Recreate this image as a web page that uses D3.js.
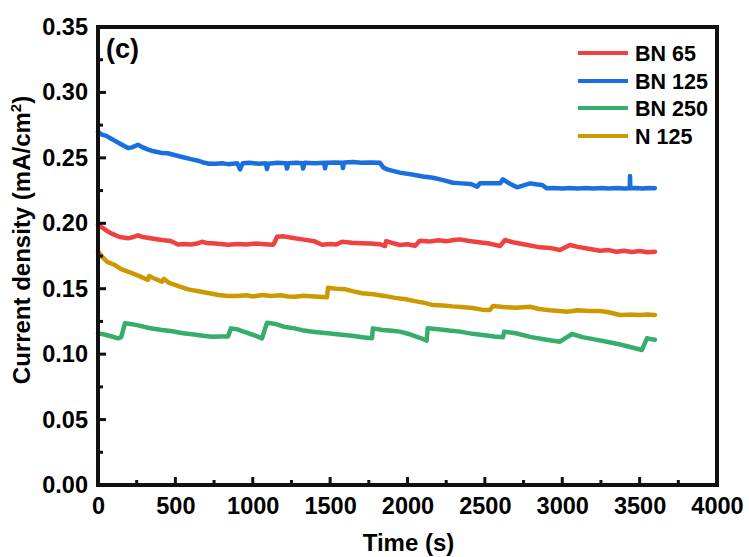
<!DOCTYPE html>
<html><head><meta charset="utf-8">
<script src="https://cdn.jsdelivr.net/npm/d3@7"></script>
<style>body{margin:0;background:#fff}</style>
</head><body><svg id="c" width="749" height="557"></svg>
<script>
const seriesNames = ["BN 65","BN 125","BN 250","N 125"];
const seriesColors = ["#F14040","#1A6FDF","#37AD6B","#CC9900"];
const xTicks = [0,500,1000,1500,2000,2500,3000,3500,4000];
const yTicks = [0,0.05,0.10,0.15,0.20,0.25,0.30,0.35];

const bn65 = [[0,0.1990],[30,0.1965],[60,0.1940],[100,0.1915],[140,0.1895],[194,0.1885],[230,0.1895],[258,0.1908],[290,0.1895],[340,0.1885],[413,0.1872],[470,0.1865],[517,0.1838],[560,0.1842],[600,0.1838],[640,0.1845],[672,0.1859],[700,0.1850],[760,0.1845],[840,0.1836],[900,0.1842],[960,0.1838],[1020,0.1845],[1080,0.1840],[1131,0.1836],[1140,0.1850],[1157,0.1898],[1200,0.1900],[1273,0.1885],[1330,0.1875],[1400,0.1862],[1448,0.1836],[1500,0.1842],[1540,0.1838],[1577,0.1859],[1640,0.1852],[1700,0.1848],[1760,0.1845],[1820,0.1840],[1855,0.1826],[1862,0.1864],[1900,0.1850],[1951,0.1834],[2000,0.1840],[2048,0.1828],[2081,0.1867],[2140,0.1860],[2200,0.1870],[2250,0.1862],[2300,0.1872],[2339,0.1877],[2400,0.1865],[2460,0.1855],[2530,0.1845],[2598,0.1826],[2630,0.1872],[2680,0.1855],[2750,0.1840],[2856,0.1816],[2920,0.1812],[2985,0.1796],[3050,0.1834],[3100,0.1820],[3170,0.1805],[3244,0.1790],[3300,0.1795],[3350,0.1782],[3400,0.1790],[3450,0.1780],[3500,0.1788],[3550,0.1778],[3599,0.1783]];
const bn125 = [[0,0.2700],[20,0.2680],[50,0.2670],[80,0.2650],[110,0.2630],[140,0.2610],[170,0.2590],[194,0.2575],[220,0.2580],[258,0.2600],[290,0.2580],[320,0.2565],[360,0.2550],[413,0.2537],[450,0.2535],[500,0.2520],[550,0.2505],[600,0.2490],[640,0.2480],[680,0.2465],[720,0.2455],[760,0.2455],[800,0.2458],[840,0.2452],[900,0.2458],[918,0.2412],[935,0.2458],[980,0.2462],[1040,0.2455],[1085,0.2458],[1092,0.2415],[1100,0.2455],[1160,0.2462],[1215,0.2458],[1221,0.2418],[1230,0.2458],[1280,0.2462],[1320,0.2458],[1325,0.2418],[1335,0.2462],[1400,0.2458],[1462,0.2462],[1467,0.2420],[1475,0.2462],[1530,0.2465],[1578,0.2462],[1583,0.2422],[1590,0.2465],[1650,0.2468],[1700,0.2462],[1760,0.2465],[1822,0.2462],[1845,0.2425],[1874,0.2410],[1950,0.2387],[2048,0.2369],[2100,0.2358],[2165,0.2348],[2230,0.2330],[2294,0.2310],[2350,0.2305],[2410,0.2300],[2449,0.2280],[2468,0.2305],[2530,0.2305],[2598,0.2305],[2617,0.2336],[2650,0.2310],[2707,0.2275],[2750,0.2290],[2792,0.2305],[2830,0.2298],[2869,0.2293],[2901,0.2267],[2950,0.2270],[3000,0.2266],[3050,0.2270],[3100,0.2266],[3150,0.2270],[3200,0.2266],[3250,0.2270],[3300,0.2266],[3350,0.2270],[3400,0.2266],[3436,0.2268],[3438,0.2361],[3440,0.2268],[3480,0.2270],[3520,0.2266],[3560,0.2270],[3599,0.2268]];
const bn250 = [[0,0.1159],[40,0.1150],[90,0.1135],[129,0.1121],[150,0.1130],[174,0.1236],[200,0.1232],[260,0.1220],[330,0.1200],[413,0.1185],[480,0.1175],[550,0.1160],[620,0.1150],[680,0.1140],[737,0.1133],[800,0.1135],[840,0.1135],[859,0.1197],[900,0.1190],[960,0.1165],[1020,0.1140],[1060,0.1121],[1092,0.1240],[1150,0.1230],[1200,0.1210],[1273,0.1197],[1330,0.1180],[1400,0.1170],[1486,0.1159],[1560,0.1150],[1640,0.1140],[1720,0.1128],[1771,0.1121],[1776,0.1197],[1840,0.1185],[1900,0.1178],[1951,0.1172],[2020,0.1150],[2080,0.1125],[2124,0.1103],[2130,0.1197],[2200,0.1190],[2270,0.1180],[2339,0.1172],[2420,0.1155],[2500,0.1145],[2560,0.1135],[2617,0.1129],[2625,0.1172],[2700,0.1160],[2800,0.1130],[2900,0.1110],[2985,0.1095],[3063,0.1154],[3130,0.1130],[3200,0.1115],[3289,0.1095],[3350,0.1080],[3420,0.1060],[3515,0.1032],[3547,0.1121],[3570,0.1115],[3599,0.1110]];
const n125 = [[0,0.1785],[30,0.1740],[60,0.1705],[110,0.1681],[150,0.1650],[194,0.1630],[260,0.1600],[323,0.1567],[330,0.1597],[360,0.1580],[413,0.1554],[425,0.1575],[460,0.1545],[520,0.1520],[582,0.1495],[650,0.1480],[720,0.1465],[780,0.1452],[840,0.1444],[900,0.1445],[960,0.1450],[1000,0.1440],[1060,0.1452],[1120,0.1445],[1180,0.1450],[1230,0.1440],[1273,0.1439],[1330,0.1446],[1400,0.1440],[1480,0.1434],[1486,0.1508],[1540,0.1500],[1600,0.1495],[1650,0.1480],[1706,0.1465],[1780,0.1458],[1850,0.1445],[1920,0.1430],[1990,0.1420],[2048,0.1405],[2110,0.1392],[2165,0.1375],[2230,0.1372],[2290,0.1365],[2350,0.1360],[2420,0.1352],[2480,0.1340],[2533,0.1337],[2552,0.1368],[2620,0.1360],[2700,0.1355],[2792,0.1362],[2850,0.1345],[2920,0.1335],[2980,0.1330],[3031,0.1324],[3100,0.1335],[3170,0.1330],[3244,0.1330],[3300,0.1320],[3373,0.1299],[3430,0.1302],[3500,0.1300],[3550,0.1303],[3599,0.1300]];
const seriesData = [bn65, bn125, bn250, n125];

const FONT = "'Liberation Sans', Arial, sans-serif";
const svg = d3.select("#c");
const L = 98, R = 717, T = 27, B = 485;
const x = d3.scaleLinear().domain([0,4000]).range([L,R]);
const y = d3.scaleLinear().domain([0,0.35]).range([B,T]);

const line = d3.line().x(d=>x(d[0])).y(d=>y(d[1]));
seriesData.forEach((s,i)=>{
  svg.append("path").datum(s).attr("d",line).attr("fill","none")
   .attr("stroke",seriesColors[i]).attr("stroke-width",4.5)
   .attr("stroke-linejoin","round").attr("stroke-linecap","round");
});

// frame: four solid bars
const fw = 4;
[[L-2,T-2,R-L+fw,fw],[L-2,B-2,R-L+fw,fw],[L-2,T-2,fw,B-T+fw],[R-2,T-2,fw,B-T+fw]].forEach(r=>{
  svg.append("rect").attr("x",r[0]).attr("y",r[1]).attr("width",r[2]).attr("height",r[3]).attr("fill","#111");
});

// tick marks (inward) as solid bars
const xMinor = d3.range(250,4000,500);
const yMinor = d3.range(0.025,0.35,0.05);
xTicks.forEach(d=>svg.append("rect").attr("x",x(d)-1.5).attr("y",B-8).attr("width",3).attr("height",8).attr("fill","#111"));
xMinor.forEach(d=>svg.append("rect").attr("x",x(d)-1.5).attr("y",B-5).attr("width",3).attr("height",5).attr("fill","#111"));
yTicks.forEach(d=>svg.append("rect").attr("x",L).attr("y",y(d)-1.5).attr("width",8).attr("height",3).attr("fill","#111"));
yMinor.forEach(d=>svg.append("rect").attr("x",L).attr("y",y(d)-1.5).attr("width",5).attr("height",3).attr("fill","#111"));

// axis labels via d3 axes
const xg = svg.append("g").attr("transform",`translate(0,${B})`)
  .call(d3.axisBottom(x).tickValues(xTicks).tickFormat(d3.format("d")).tickSize(0).tickPadding(12));
const yg = svg.append("g").attr("transform",`translate(${L},0)`)
  .call(d3.axisLeft(y).tickValues(yTicks).tickFormat(d3.format(".2f")).tickSize(0).tickPadding(10));
[xg,yg].forEach(a=>{
  a.select(".domain").remove();
  a.selectAll(".tick line").remove();
  a.attr("font-size",23.5).attr("font-family",FONT).attr("font-weight","bold");
  a.selectAll(".tick text").attr("fill","black");
});
xg.selectAll(".tick text").attr("dy","0.71em");

// axis titles
svg.append("text").attr("x",(L+R)/2+1).attr("y",551).attr("text-anchor","middle")
  .attr("font-family",FONT).attr("font-weight","bold").attr("font-size",24).attr("fill","black").text("Time (s)");
const yt = svg.append("text").attr("transform","translate(30,240) rotate(-90)").attr("text-anchor","middle")
  .attr("font-family",FONT).attr("font-weight","bold").attr("font-size",24).attr("fill","black");
yt.append("tspan").text("Current density (mA/cm");
yt.append("tspan").attr("dy",-9).attr("font-size",15).text("2");
yt.append("tspan").attr("dy",9).text(")");

// panel label
svg.append("text").attr("x",106).attr("y",58).attr("font-family",FONT).attr("font-weight","bold")
  .attr("font-size",27).attr("fill","black").text("(c)");

// legend
const legY = [53,81,108,136];
seriesNames.forEach((n,i)=>{
  svg.append("line").attr("x1",578).attr("x2",628).attr("y1",legY[i]).attr("y2",legY[i])
    .attr("stroke",seriesColors[i]).attr("stroke-width",4);
  svg.append("text").attr("x",635).attr("y",legY[i]).attr("dy","0.36em")
    .attr("font-family",FONT).attr("font-weight","bold").attr("font-size",21.5).attr("fill","black").text(n);
});
</script></body></html>
